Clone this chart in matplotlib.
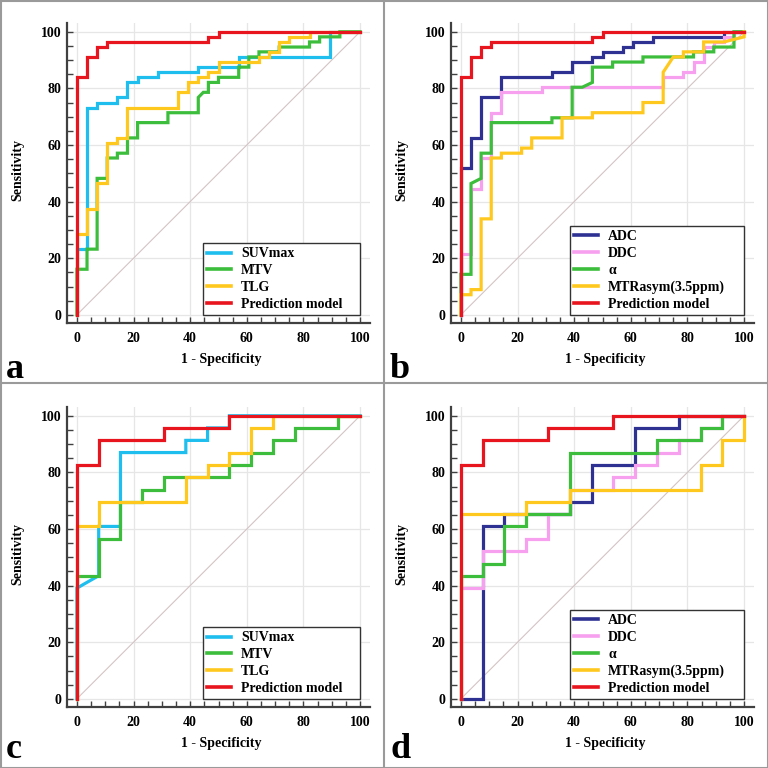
import matplotlib
matplotlib.use("Agg")
import matplotlib.pyplot as plt
from matplotlib.lines import Line2D
from matplotlib.ticker import MultipleLocator

plt.rcParams['font.family'] = ['Liberation Serif', 'DejaVu Serif']
plt.rcParams['font.weight'] = 'bold'

# ---------------- data: ROC curve vertices (1 - specificity, sensitivity) ----------------
# Panel a
a_suv_x = [0, 0, 3.57, 3.57, 7.14, 7.14, 14.29, 14.29, 17.86, 17.86, 21.43, 21.43, 28.57, 28.57, 42.86, 42.86, 57.14, 57.14, 89.29, 89.29, 100]
a_suv_y = [0, 23.2, 23.2, 73.2, 73.2, 75.0, 75.0, 76.8, 76.8, 82.1, 82.1, 83.9, 83.9, 85.7, 85.7, 87.5, 87.5, 91.1, 91.1, 100, 100]
a_mtv_x = [0, 0, 3.57, 3.57, 7.14, 7.14, 10.71, 10.71, 14.29, 14.29, 17.86, 17.86, 21.43, 21.43, 32.14, 32.14, 42.86, 42.86, 44.64, 46.43, 46.43, 50, 50, 57.14, 57.14, 60.71, 60.71, 64.29, 64.29, 71.43, 71.43, 82.14, 82.14, 85.71, 85.71, 92.86, 92.86, 100]
a_mtv_y = [0, 16.1, 16.1, 23.2, 23.2, 48.2, 48.2, 55.4, 55.4, 57.1, 57.1, 62.5, 62.5, 67.9, 67.9, 71.4, 71.4, 76.8, 78.6, 78.6, 82.1, 82.1, 83.9, 83.9, 87.5, 87.5, 91.1, 91.1, 92.9, 92.9, 94.6, 94.6, 96.4, 96.4, 98.2, 98.2, 100, 100]
a_tlg_x = [0, 0, 3.57, 3.57, 7.14, 7.14, 10.71, 10.71, 14.29, 14.29, 17.86, 17.86, 35.71, 35.71, 39.29, 39.29, 42.86, 42.86, 46.43, 46.43, 50, 50, 64.29, 64.29, 67.86, 67.86, 71.43, 71.43, 75, 75, 82.14, 82.14, 100]
a_tlg_y = [0, 28.6, 28.6, 37.5, 37.5, 46.4, 46.4, 60.7, 60.7, 62.5, 62.5, 73.2, 73.2, 78.6, 78.6, 82.1, 82.1, 83.9, 83.9, 85.7, 85.7, 89.3, 89.3, 91.1, 91.1, 92.9, 92.9, 96.4, 96.4, 98.2, 98.2, 100, 100]
ab_model_x = [0, 0, 3.57, 3.57, 7.14, 7.14, 10.71, 10.71, 46.43, 46.43, 50, 50, 100]
ab_model_y = [0, 83.9, 83.9, 91.1, 91.1, 94.6, 94.6, 96.4, 96.4, 98.2, 98.2, 100, 100]

# Panel b
b_adc_x = [0, 0, 3.57, 3.57, 7.14, 7.14, 14.29, 14.29, 32.14, 32.14, 39.29, 39.29, 46.43, 46.43, 50, 50, 57.14, 57.14, 60.71, 60.71, 67.86, 67.86, 92.86, 92.86, 100]
b_adc_y = [0, 51.8, 51.8, 62.5, 62.5, 76.8, 76.8, 83.9, 83.9, 85.7, 85.7, 89.3, 89.3, 91.1, 91.1, 92.9, 92.9, 94.6, 94.6, 96.4, 96.4, 98.2, 98.2, 100, 100]
b_ddc_x = [0, 0, 3.57, 3.57, 7.14, 7.14, 10.71, 10.71, 14.29, 14.29, 28.57, 28.57, 71.43, 71.43, 78.57, 78.57, 82.14, 82.14, 85.71, 85.71, 89.29, 89.29, 92.86, 92.86, 96.43, 96.43, 100]
b_ddc_y = [0, 21.4, 21.4, 44.6, 44.6, 55.4, 55.4, 71.4, 71.4, 78.6, 78.6, 80.4, 80.4, 83.9, 83.9, 85.7, 85.7, 89.3, 89.3, 94.6, 94.6, 96.4, 96.4, 98.2, 98.2, 100, 100]
b_alpha_x = [0, 0, 3.57, 3.57, 7.14, 7.14, 10.71, 10.71, 32.14, 32.14, 39.29, 39.29, 42.86, 46.43, 46.43, 53.57, 53.57, 64.29, 64.29, 82.14, 82.14, 89.29, 89.29, 96.43, 96.43, 100]
b_alpha_y = [0, 14.3, 14.3, 46.4, 48.2, 57.1, 57.1, 67.9, 67.9, 69.6, 69.6, 80.4, 80.4, 82.1, 87.5, 87.5, 89.3, 89.3, 91.1, 91.1, 92.9, 92.9, 94.6, 94.6, 100, 100]
b_mtr_x = [0, 0, 3.57, 3.57, 7.14, 7.14, 10.71, 10.71, 14.29, 14.29, 21.43, 21.43, 25, 25, 35.71, 35.71, 46.43, 46.43, 64.29, 64.29, 71.43, 71.43, 75, 78.57, 78.57, 85.71, 85.71, 92.86, 100, 100]
b_mtr_y = [0, 7.1, 7.1, 8.9, 8.9, 33.9, 33.9, 55.4, 55.4, 57.1, 57.1, 58.9, 58.9, 62.5, 62.5, 69.6, 69.6, 71.4, 71.4, 75.0, 75.0, 85.7, 91.1, 91.1, 92.9, 92.9, 96.4, 96.4, 98.2, 100]

# Panel c
c_suv_x = [0, 0, 7.69, 7.69, 15.38, 15.38, 38.46, 38.46, 46.15, 46.15, 53.85, 53.85, 100]
c_suv_y = [0, 39.1, 43.5, 60.9, 60.9, 87.0, 87.0, 91.3, 91.3, 95.7, 95.7, 100, 100]
c_mtv_x = [0, 0, 7.69, 7.69, 15.38, 15.38, 23.08, 23.08, 30.77, 30.77, 53.85, 53.85, 61.54, 61.54, 69.23, 69.23, 76.92, 76.92, 92.31, 92.31, 100]
c_mtv_y = [0, 43.5, 43.5, 56.5, 56.5, 69.6, 69.6, 73.9, 73.9, 78.3, 78.3, 82.6, 82.6, 87.0, 87.0, 91.3, 91.3, 95.7, 95.7, 100, 100]
c_tlg_x = [0, 0, 7.69, 7.69, 38.46, 38.46, 46.15, 46.15, 53.85, 53.85, 61.54, 61.54, 69.23, 69.23, 100]
c_tlg_y = [0, 60.9, 60.9, 69.6, 69.6, 78.3, 78.3, 82.6, 82.6, 87.0, 87.0, 95.7, 95.7, 100, 100]
cd_model_x = [0, 0, 7.69, 7.69, 30.77, 30.77, 53.85, 53.85, 100]
cd_model_y = [0, 82.6, 82.6, 91.3, 91.3, 95.7, 95.7, 100, 100]

# Panel d
d_adc_x = [0, 7.69, 7.69, 15.38, 15.38, 38.46, 38.46, 46.15, 46.15, 61.54, 61.54, 76.92, 76.92, 100]
d_adc_y = [0, 0, 60.9, 60.9, 65.2, 65.2, 69.6, 69.6, 82.6, 82.6, 95.7, 95.7, 100, 100]
d_ddc_x = [0, 0, 7.69, 7.69, 23.08, 23.08, 30.77, 30.77, 38.46, 38.46, 53.85, 53.85, 61.54, 61.54, 69.23, 69.23, 76.92, 76.92, 84.62, 84.62, 92.31, 92.31, 100]
d_ddc_y = [0, 39.1, 39.1, 52.2, 52.2, 56.5, 56.5, 65.2, 65.2, 73.9, 73.9, 78.3, 78.3, 82.6, 82.6, 87.0, 87.0, 91.3, 91.3, 95.7, 95.7, 100, 100]
d_alpha_x = [0, 0, 7.69, 7.69, 15.38, 15.38, 23.08, 23.08, 38.46, 38.46, 69.23, 69.23, 84.62, 84.62, 92.31, 92.31, 100]
d_alpha_y = [0, 43.5, 43.5, 47.8, 47.8, 60.9, 60.9, 65.2, 65.2, 87.0, 87.0, 91.3, 91.3, 95.7, 95.7, 100, 100]
d_mtr_x = [0, 0, 23.08, 23.08, 38.46, 38.46, 84.62, 84.62, 92.31, 92.31, 100, 100]
d_mtr_y = [0, 65.2, 65.2, 69.6, 69.6, 73.9, 73.9, 82.6, 82.6, 91.3, 91.3, 100]

labels_pet = ['SUVmax', 'MTV', 'TLG', 'Prediction model']
labels_mri = ['ADC', 'DDC', 'α', 'MTRasym(3.5ppm)', 'Prediction model']
tick_values = [0, 20, 40, 60, 80, 100]
panel_letters = ['a', 'b', 'c', 'd']

CYAN = '#1EBEEE'
GREEN = '#3CBE3C'
YELLOW = '#FFC81E'
RED = '#E8141E'
NAVY = '#2E3192'
PINK = '#F7A0F0'

panels = [
    dict(curves=[(a_suv_x, a_suv_y, CYAN), (a_mtv_x, a_mtv_y, GREEN), (a_tlg_x, a_tlg_y, YELLOW), (ab_model_x, ab_model_y, RED)], labels=labels_pet, leg_left=44.5),
    dict(curves=[(b_adc_x, b_adc_y, NAVY), (b_ddc_x, b_ddc_y, PINK), (b_alpha_x, b_alpha_y, GREEN), (b_mtr_x, b_mtr_y, YELLOW), (ab_model_x, ab_model_y, RED)], labels=labels_mri, leg_left=38.5),
    dict(curves=[(c_suv_x, c_suv_y, CYAN), (c_mtv_x, c_mtv_y, GREEN), (c_tlg_x, c_tlg_y, YELLOW), (cd_model_x, cd_model_y, RED)], labels=labels_pet, leg_left=44.5),
    dict(curves=[(d_adc_x, d_adc_y, NAVY), (d_ddc_x, d_ddc_y, PINK), (d_alpha_x, d_alpha_y, GREEN), (d_mtr_x, d_mtr_y, YELLOW), (cd_model_x, cd_model_y, RED)], labels=labels_mri, leg_left=38.5),
]

fig = plt.figure(figsize=(7.68, 7.68), dpi=100)
fig.patch.set_facecolor('white')

W = 768.0
positions = [
    (67 / W, 1 - 323.3 / W),
    (451 / W, 1 - 323.3 / W),
    (67 / W, 1 - 707.3 / W),
    (451 / W, 1 - 707.3 / W),
]
aw, ah = 303 / W, 300.6 / W
letter_pos = [(6, 378), (390, 378), (6, 758), (390, 758)]

SPINE = '#404040'
FS = 10
for i, p in enumerate(panels):
    ax = fig.add_axes([positions[i][0], positions[i][1], aw, ah])
    ax.set_xlim(-3.5, 103.5)
    ax.set_ylim(-3.0, 103.2)
    for s in ['top', 'right']:
        ax.spines[s].set_visible(False)
    for s in ['left', 'bottom']:
        ax.spines[s].set_color(SPINE)
        ax.spines[s].set_linewidth(1.6)
    ax.set_xticks(tick_values)
    ax.set_yticks(tick_values)
    ax.xaxis.set_minor_locator(MultipleLocator(5))
    ax.yaxis.set_minor_locator(MultipleLocator(5))
    ax.tick_params(which='both', direction='in', color=SPINE, width=1.0)
    ax.tick_params(which='major', length=4.5)
    ax.tick_params(which='minor', length=4)
    ax.tick_params(axis='x', which='major', pad=6, labelsize=FS)
    ax.tick_params(axis='y', which='major', pad=4, labelsize=FS)
    for lab in ax.get_xticklabels() + ax.get_yticklabels():
        lab.set_fontweight('bold')
    ax.grid(True, which='major', color='#e6e6e6', linewidth=0.9)
    ax.set_axisbelow(True)
    # reference diagonal
    ax.plot([0, 100], [0, 100], color='#d4c4c4', linewidth=0.8, zorder=1)
    handles = []
    for (x, y, c), lab in zip(p['curves'], p['labels']):
        h, = ax.plot(x, y, color=c, linewidth=2.3, solid_joinstyle='miter', label=lab, zorder=2)
        handles.append(h)
    ax.set_xlabel('1 - Specificity', fontsize=FS, fontweight='bold')
    ax.set_ylabel('Sensitivity', fontsize=FS, fontweight='bold')
    ax.xaxis.set_label_coords(0.508, -0.098)
    ax.yaxis.set_label_coords(-0.142, 0.51)
    lx0 = p['leg_left']
    leg = ax.legend(handles=handles, labels=p['labels'], loc='lower left',
                    bbox_to_anchor=(lx0, 0, 100 - lx0, 20), bbox_transform=ax.transData,
                    mode='expand', borderaxespad=0, fancybox=False, framealpha=1,
                    edgecolor='#333333', prop={'weight': 'bold', 'size': FS},
                    handlelength=1.75, handletextpad=0.7, labelspacing=0.27,
                    borderpad=0.3)
    leg.get_frame().set_linewidth(1.0)
    for ln in leg.get_lines():
        ln.set_linewidth(2.6)
    lx, ly = letter_pos[i]
    fig.text(lx / W, 1 - ly / W, panel_letters[i], fontsize=26, fontweight='bold',
             ha='left', va='baseline')

# panel frame lines
BORDER = '#9a9a9a'
for seg in [((0.5 / W, 0.5 / W), (0, 1)), ((1 - 0.5 / W, 1 - 0.5 / W), (0, 1)),
            ((0, 1), (0.5 / W, 0.5 / W)), ((0, 1), (1 - 0.5 / W, 1 - 0.5 / W)),
            ((383.5 / W, 383.5 / W), (0, 1)), ((0, 1), (1 - 383.5 / W, 1 - 383.5 / W))]:
    fig.add_artist(Line2D(seg[0], seg[1], transform=fig.transFigure, color=BORDER, linewidth=1.5))

fig.savefig('out.png', dpi=100, facecolor='white')
